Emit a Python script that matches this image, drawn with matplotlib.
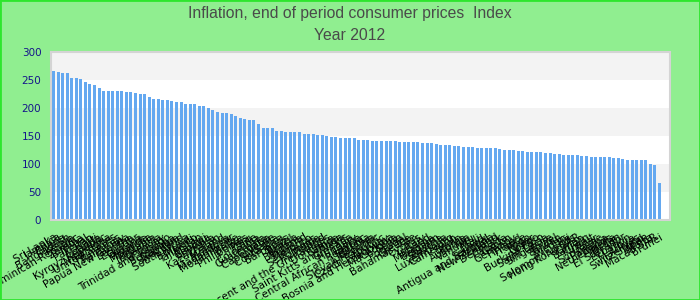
import matplotlib
matplotlib.use("Agg")
import matplotlib.pyplot as plt
from matplotlib.patches import Rectangle

# Данные: индекс инфляции на конец периода, 2012 год
countries = [
    "Sri Lanka", "Jamaica", "Ghana", "Bangladesh", "Kenya", "Dominican Republic",
    "Zambia", "Nepal", "Pakistan", "Haiti", "Uganda", "Kyrgyz Republic",
    "Nicaragua", "United States", "Honduras", "Paraguay", "Papua New Guinea",
    "Lesotho", "Ecuador", "Guyana", "Rwanda", "Mongolia", "Tanzania",
    "Indonesia", "Uruguay", "Trinidad and Tobago", "Botswana", "Namibia",
    "Swaziland", "South Africa", "Burundi", "Mexico", "Tajikistan", "Malawi",
    "Georgia", "Armenia", "Kazakhstan", "Iceland", "Moldova", "Madagascar",
    "Mozambique", "Belize", "Philippines", "Peru", "Chile", "Colombia",
    "Guatemala", "Croatia", "Cape Verde", "Albania", "Costa Rica", "Barbados",
    "Brazil", "Tunisia", "Bulgaria", "Thailand", "Morocco", "Seychelles",
    "Romania", "Poland", "Saint Vincent and the Grenadines", "Dominica",
    "Samoa", "Tonga", "Saint Kitts and Nevis", "Grenada", "Hungary", "Latvia",
    "Central African Republic", "Estonia", "Lithuania", "Slovak Republic",
    "Czech Republic", "Norway", "Bosnia and Herzegovina", "Macedonia", "Spain",
    "Portugal", "Greece", "Bahamas, The", "Cyprus", "Italy", "Ireland",
    "Malaysia", "Belgium", "Austria", "Slovenia", "Luxembourg", "Cameroon",
    "Benin", "Korea", "Australia", "Vanuatu", "Mali", "Chad", "Senegal",
    "Antigua and Barbuda", "New Zealand", "Denmark", "Canada", "Gabon",
    "Germany", "Finland", "France", "Togo", "Niger", "Congo", "Burkina Faso",
    "Saint Lucia", "Singapore", "Israel", "Taiwan", "Sweden", "Fiji",
    "Solomon Islands", "Hong Kong SAR", "Oman", "Bahrain", "Kuwait", "Qatar",
    "Suriname", "Panama", "Netherlands", "Algeria", "Jordan", "El Salvador",
    "Lebanon", "Libya", "Maldives", "Switzerland", "Japan", "Malta",
    "Macao SAR", "Brunei",
]

values = [
    265.5, 263.7, 261.9, 261.9, 253.0, 253.0, 251.0, 245.8, 242.0, 240.5,
    235.0, 229.8, 229.8, 229.8, 229.8, 229.8, 228.0, 228.0, 226.0, 224.4,
    224.4, 219.0, 215.5, 215.5, 213.7, 213.7, 212.0, 210.0, 210.0, 206.5,
    206.5, 206.5, 203.0, 203.0, 199.4, 195.8, 192.3, 190.5, 190.5, 188.7,
    185.0, 181.5, 179.8, 178.0, 178.0, 170.8, 163.7, 163.7, 163.7, 158.3,
    158.3, 156.5, 156.5, 156.5, 156.5, 153.0, 153.0, 153.0, 151.2, 151.2,
    149.4, 147.6, 147.6, 145.8, 145.8, 145.8, 145.8, 142.3, 142.3, 142.3,
    140.5, 140.5, 140.5, 140.5, 140.5, 140.5, 138.7, 138.7, 138.7, 138.7,
    138.7, 136.9, 136.9, 136.9, 135.1, 133.3, 133.3, 133.3, 131.5, 131.5,
    129.8, 129.8, 129.8, 128.0, 128.0, 128.0, 128.0, 128.0, 126.2, 124.4,
    124.4, 124.4, 122.6, 122.6, 120.8, 120.8, 120.8, 120.8, 119.0, 119.0,
    117.3, 117.3, 115.5, 115.5, 115.5, 115.5, 113.7, 113.7, 111.9, 111.9,
    111.9, 111.9, 111.9, 110.0, 110.0, 108.3, 106.5, 106.5, 106.5, 106.5,
    106.5, 99.4, 97.6, 65.5,
]

y_ticks = [0, 50, 100, 150, 200, 250, 300]
title_line1 = "Inflation, end of period consumer prices  Index"
title_line2 = "Year 2012"

fig = plt.figure(figsize=(7, 3), dpi=100)
fig.patch.set_facecolor("#90ee90")
ax = fig.add_axes([0.0729, 0.268, 0.884, 0.56])
ax.set_facecolor("white")

# Чередующиеся полосы фона
for lo in (50, 150, 250):
    ax.axhspan(lo, lo + 50, color="#f3f3f3", zorder=0, lw=0)

x = list(range(len(values)))
ax.bar(x, values, width=0.66, color="#64a8f0", zorder=2)

ax.set_xlim(-0.55, 135.3)
ax.set_ylim(0, 300)
ax.set_yticks(y_ticks)
ax.tick_params(axis="y", length=0, pad=7, labelsize=7.5, labelcolor="#15158a")
ax.set_xticks(x)
ax.set_xticklabels(countries, rotation=30, ha="right", rotation_mode="anchor",
                   fontsize=7.5, color="#000000")
ax.tick_params(axis="x", length=0, pad=9)

for s in ax.spines.values():
    s.set_color("#d4d4d4")
    s.set_linewidth(1.5)

title_font = ["Liberation Sans", "DejaVu Sans"]
fig.text(0.5, 1 - 13.5 / 300, title_line1, ha="center", va="center",
         fontsize=11.3, color="#4a4a4a", family=title_font)
fig.text(0.5, 1 - 36 / 300, title_line2, ha="center", va="center",
         fontsize=11.3, color="#4a4a4a", family=title_font)

# Зелёная рамка вокруг рисунка
fig.add_artist(Rectangle((0, 0), 1, 1, transform=fig.transFigure, fill=False,
                         edgecolor="#2ee62e", lw=2))

fig.savefig("out.png", dpi=100, facecolor=fig.get_facecolor())
